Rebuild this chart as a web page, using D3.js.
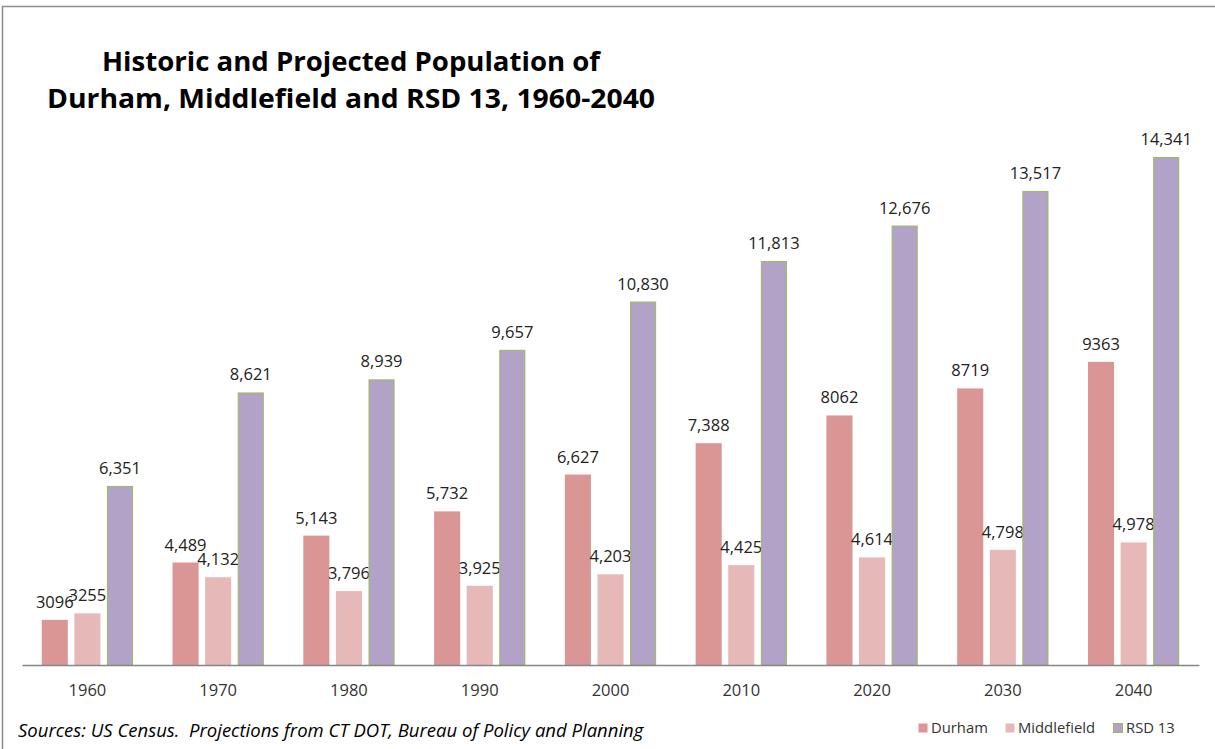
<!DOCTYPE html>
<html>
<head>
<meta charset="utf-8">
<script src="https://cdn.jsdelivr.net/npm/d3@7"></script>
<style>
  html, body { margin: 0; padding: 0; background: #fff; }
  svg { display: block; }
  text { font-family: "Open Sans", Lato, sans-serif; white-space: pre; }
</style>
</head>
<body>
<svg id="chart" width="1215" height="749"></svg>
<script>
// Census years and projections
const years = ["1960", "1970", "1980", "1990", "2000", "2010", "2020", "2030", "2040"];
const seriesNames = ["Durham", "Middlefield", "RSD 13"];
const durham = [3096, 4489, 5143, 5732, 6627, 7388, 8062, 8719, 9363];
const middlefield = [3255, 4132, 3796, 3925, 4203, 4425, 4614, 4798, 4978];
const rsd13 = [6351, 8621, 8939, 9657, 10830, 11813, 12676, 13517, 14341];
// Years whose data labels are printed without a thousands separator
const durhamPlainYears = ["1960", "2020", "2030", "2040"];
const middlefieldPlainYears = ["1960"];
const rsd13PlainYears = [];
const yDomain = [2000, 16000];

const titleLines = ["Historic and Projected Population of", "Durham, Middlefield and RSD 13, 1960-2040"];
const sourceNote = "Sources: US Census.  Projections from CT DOT, Bureau of Policy and Planning";

const fills = ["#d99694", "#e6b9b8", "#b2a2c7"];
const strokes = ["none", "none", "#9bbb59"];

const series = [
  { name: seriesNames[0], values: durham, plain: durhamPlainYears },
  { name: seriesNames[1], values: middlefield, plain: middlefieldPlainYears },
  { name: seriesNames[2], values: rsd13, plain: rsd13PlainYears }
];

const svg = d3.select("#chart");

// chart frame (top and left edges)
svg.append("path")
  .attr("d", "M2.5,749 L2.5,6.5 L1215,6.5")
  .attr("fill", "none")
  .attr("stroke", "#8c8c8c")
  .attr("stroke-width", 1.5);

const x0 = d3.scaleBand().domain(years).range([22, 1199]).paddingInner(0.302).paddingOuter(0.151);
const x1 = d3.scaleBand().domain(seriesNames).range([0, x0.bandwidth()]).paddingInner(0.2);
const y = d3.scaleLinear().domain(yDomain).range([665, 88.7]);

const fmtComma = d3.format(",");
const fmtPlain = d3.format("d");

// bars and their value labels
const groups = svg.append("g").selectAll("g")
  .data(series)
  .join("g");

groups.each(function (s, si) {
  const g = d3.select(this);
  const pts = years.map((yr, i) => ({ yr, v: s.values[i] }));
  const inset = strokes[si] === "none" ? 0 : 0.5;
  g.selectAll("rect")
    .data(pts)
    .join("rect")
    .attr("x", d => x0(d.yr) + x1(s.name) + inset)
    .attr("y", d => y(d.v) + inset)
    .attr("width", x1.bandwidth() - 2 * inset)
    .attr("height", d => y(yDomain[0]) - y(d.v) - inset)
    .attr("fill", fills[si])
    .attr("stroke", strokes[si])
    .attr("stroke-width", 1);

  g.selectAll("text")
    .data(pts)
    .join("text")
    .attr("x", d => x0(d.yr) + x1(s.name) + x1.bandwidth() / 2)
    .attr("y", d => y(d.v) - 12)
    .attr("text-anchor", "middle")
    .attr("font-size", 16.5)
    .attr("fill", "#222")
    .text(d => s.plain.includes(d.yr) ? fmtPlain(d.v) : fmtComma(d.v));
});

// category axis
const xAxis = svg.append("g")
  .attr("transform", `translate(0,${y(yDomain[0])})`)
  .call(d3.axisBottom(x0).tickSize(0).tickPadding(19).tickSizeOuter(0));
xAxis.select(".domain").attr("stroke", "#868686").attr("stroke-width", 1.3);
xAxis.selectAll("text")
  .attr("font-family", "'Open Sans', Lato, sans-serif")
  .attr("font-size", 16.5)
  .attr("fill", "#333");

// title, each line stretched to its set width
const titleWidths = [498, 608];
svg.append("g").selectAll("text")
  .data(titleLines)
  .join("text")
  .attr("x", 351)
  .attr("y", (d, i) => 71 + i * 37)
  .attr("text-anchor", "middle")
  .attr("font-size", 27)
  .attr("font-weight", "bold")
  .attr("textLength", (d, i) => titleWidths[i])
  .attr("lengthAdjust", "spacingAndGlyphs")
  .attr("fill", "#000")
  .text(d => d);

// source note
svg.append("text")
  .attr("x", 18)
  .attr("y", 737)
  .attr("font-size", 18.5)
  .attr("font-style", "italic")
  .attr("fill", "#000")
  .text(sourceNote);

// legend
const legendX = [918, 1005, 1113];
const legend = svg.append("g").selectAll("g")
  .data(seriesNames)
  .join("g")
  .attr("transform", (d, i) => `translate(${legendX[i]},723)`);
legend.append("rect")
  .attr("x", 0.5).attr("y", 0.5)
  .attr("width", 9).attr("height", 9)
  .attr("fill", (d, i) => fills[i])
  .attr("stroke", (d, i) => strokes[i]);
legend.append("text")
  .attr("x", 13)
  .attr("y", 9.5)
  .attr("font-size", 14.8)
  .attr("fill", "#333")
  .text(d => d);
</script>
</body>
</html>
